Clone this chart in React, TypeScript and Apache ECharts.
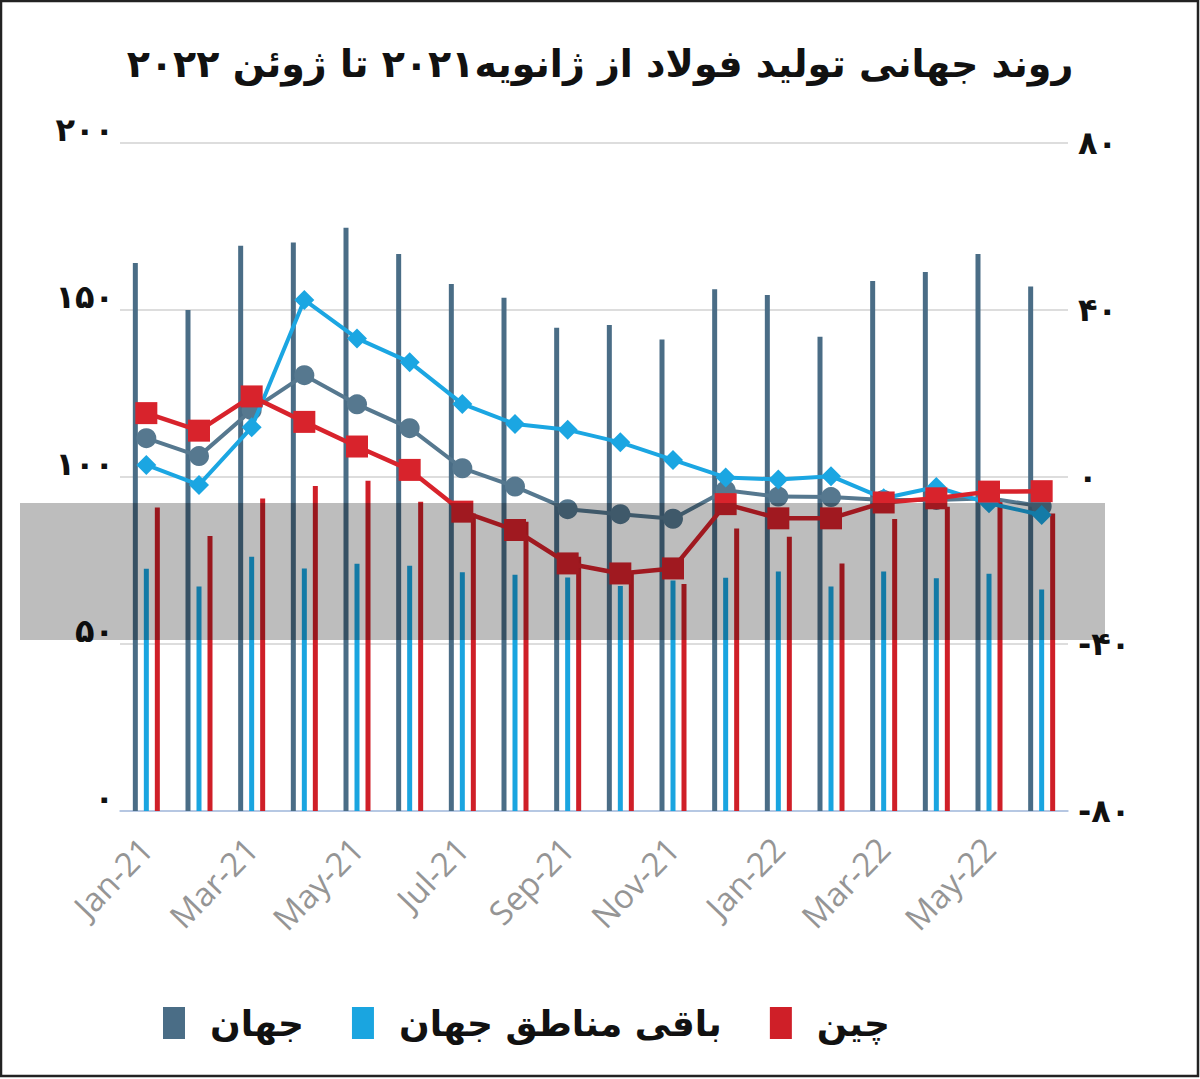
import React, { useEffect, useRef } from "react";
import * as echarts from "echarts";

const months = [
  "Jan-21", "Feb-21", "Mar-21", "Apr-21", "May-21", "Jun-21", "Jul-21", "Aug-21", "Sep-21",
  "Oct-21", "Nov-21", "Dec-21", "Jan-22", "Feb-22", "Mar-22", "Apr-22", "May-22", "Jun-22",
];

// Production (left axis)
const worldProd = [164.1, 150.0, 169.2, 170.2, 174.6, 166.8, 157.8, 153.7, 144.7, 145.5, 141.2, 156.2, 154.5, 142.0, 158.7, 161.4, 166.8, 157.0];
const restProd = [72.5, 67.2, 76.1, 72.6, 74.0, 73.4, 71.5, 70.7, 69.9, 67.4, 69.0, 69.8, 71.7, 67.2, 71.7, 69.7, 71.0, 66.3];
const chinaProd = [90.9, 82.3, 93.6, 97.3, 98.9, 92.6, 89.1, 86.6, 76.1, 71.2, 68.0, 84.6, 82.1, 74.1, 87.4, 91.1, 92.6, 89.1];

// Growth (right axis)
const worldGrowth = [9.3, 5.0, 16.0, 24.4, 17.4, 11.7, 2.1, -2.3, -7.7, -8.9, -10.0, -3.2, -4.7, -4.8, -5.5, -5.5, -5.1, -7.0];
const restGrowth = [2.9, -1.9, 11.9, 42.4, 33.2, 27.5, 17.5, 12.7, 11.3, 8.3, 4.1, -0.1, -0.6, 0.2, -5.1, -2.4, -6.3, -9.1];
const chinaGrowth = [15.3, 11.1, 19.3, 13.2, 7.3, 1.7, -8.3, -12.7, -20.7, -23.1, -21.9, -6.5, -9.9, -9.9, -6.1, -5.1, -3.5, -3.4];

const seriesNames = ["جهان", "باقی مناطق جهان", "چین"];
const titleText = "روند جهانی تولید فولاد از ژانویه۲۰۲۱ تا ژوئن ۲۰۲۲";

const faDigits = "۰۱۲۳۴۵۶۷۸۹";
const toFa = (v: number) => String(v).replace(/\d/g, (d) => faDigits[Number(d)]);

const C_WORLD_BAR = "#4a6d86";
const C_REST_BAR = "#1aa5e0";
const C_CHINA_BAR = "#cf1f28";
const C_WORLD_LINE = "#56788f";
const C_REST_LINE = "#1ba6e2";
const C_CHINA_LINE = "#d8232c";

export default function App() {
  const ref = useRef<HTMLDivElement>(null);
  useEffect(() => {
    if (!ref.current) return;
    const chart = echarts.init(ref.current, null, { renderer: "svg" });
    const barCommon = {
      type: "bar" as const,
      barWidth: 5,
      barGap: "120%",
      yAxisIndex: 0,
    };
    chart.setOption({
      animation: false,
      backgroundColor: "#ffffff",
      title: {
        text: titleText,
        left: "center",
        top: 40,
        textStyle: { fontSize: 38, fontWeight: 900, fontFamily: "DejaVu Sans", color: "#111" },
      },
      legend: {
        data: seriesNames,
        left: 158,
        top: 1000,
        icon: "rect",
        itemWidth: 22,
        itemHeight: 32,
        itemGap: 48,
        textStyle: { fontSize: 36, fontWeight: "bold", fontFamily: "DejaVu Sans", color: "#111", padding: [0, 0, 0, 20] },
      },
      grid: { left: 120, right: 132, top: 143, bottom: 268 },
      xAxis: {
        type: "category",
        data: months,
        boundaryGap: true,
        axisTick: { show: false },
        axisLine: { lineStyle: { color: "#a9c0e4", width: 1.5 } },
        axisLabel: {
          interval: 1,
          rotate: 46,
          margin: 32,
          fontSize: 33,
          fontFamily: "Open Sans",
          color: "#959595",
        },
      },
      yAxis: [
        {
          type: "value",
          min: 0,
          max: 200,
          interval: 50,
          axisLine: { show: false },
          axisTick: { show: false },
          splitLine: { lineStyle: { color: "#dddddd", width: 2 } },
          axisLabel: {
            formatter: (v: number) => toFa(v),
            fontSize: 32,
            fontWeight: "bold",
            fontFamily: "DejaVu Sans",
            color: "#111",
            margin: 6,
            verticalAlign: "bottom",
            lineHeight: 26,
          },
        },
        {
          type: "value",
          min: -80,
          max: 80,
          interval: 40,
          axisLine: { show: false },
          axisTick: { show: false },
          splitLine: { show: false },
          axisLabel: {
            formatter: (v: number) => (v < 0 ? "-" + toFa(-v) : toFa(v)),
            fontSize: 32,
            fontWeight: "bold",
            fontFamily: "DejaVu Sans",
            color: "#111",
            margin: 10,
          },
        },
      ],
      series: [
        { ...barCommon, name: seriesNames[0], data: worldProd, color: C_WORLD_BAR, itemStyle: { color: C_WORLD_BAR } },
        { ...barCommon, name: seriesNames[1], data: restProd, color: C_REST_BAR, itemStyle: { color: C_REST_BAR } },
        { ...barCommon, name: seriesNames[2], data: chinaProd, color: C_CHINA_BAR, itemStyle: { color: C_CHINA_BAR } },
        {
          type: "line",
          name: "رشد جهان",
          yAxisIndex: 1,
          data: worldGrowth,
          symbol: "circle",
          symbolSize: 20,
          lineStyle: { color: C_WORLD_LINE, width: 4 },
          itemStyle: { color: C_WORLD_LINE },
          z: 3,
        },
        {
          type: "line",
          name: "رشد باقی مناطق جهان",
          yAxisIndex: 1,
          data: restGrowth,
          symbol: "diamond",
          symbolSize: 20,
          lineStyle: { color: C_REST_LINE, width: 4 },
          itemStyle: { color: C_REST_LINE },
          z: 4,
        },
        {
          type: "line",
          name: "رشد چین",
          yAxisIndex: 1,
          data: chinaGrowth,
          symbol: "rect",
          symbolSize: 22,
          lineStyle: { color: C_CHINA_LINE, width: 4.5 },
          itemStyle: { color: C_CHINA_LINE },
          z: 5,
        },
      ],
      graphic: [
        {
          type: "rect",
          z: 100,
          silent: true,
          shape: { x: 20, y: 503, width: 1085, height: 137 },
          style: { fill: "rgba(0,0,0,0.26)" },
        },
        {
          type: "rect",
          z: 101,
          silent: true,
          shape: { x: 1, y: 1, width: 1197, height: 1075 },
          style: { fill: "none", stroke: "#222", lineWidth: 2.5 },
        },
      ],
    });
    return () => chart.dispose();
  }, []);
  return <div ref={ref} style={{ position: "fixed", left: 0, top: 0, width: 1200, height: 1079 }} />;
}
